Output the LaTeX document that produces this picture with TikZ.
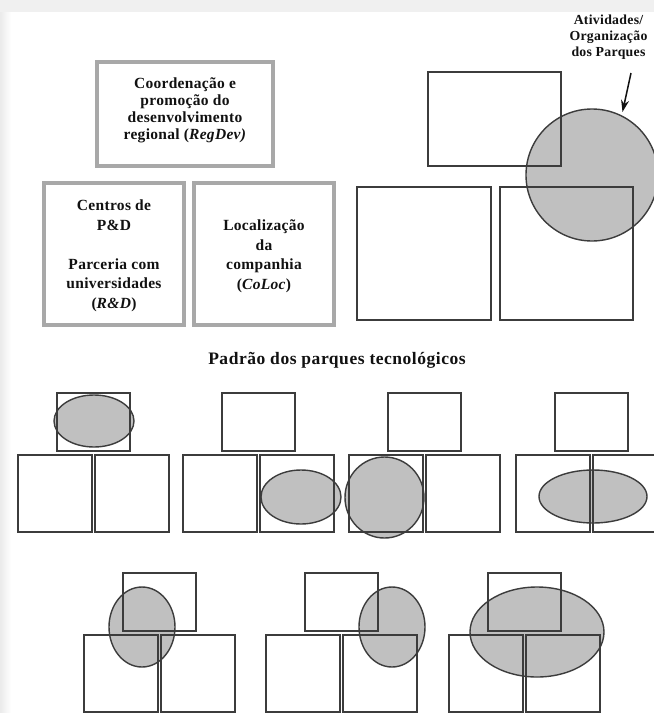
\documentclass[tikz,border=0pt]{standalone}
\usepackage{fontspec}
\usetikzlibrary{arrows.meta}
\newfontfamily\figfont{Liberation Serif}[LetterSpace=2]
\newfontfamily\titlefont{Liberation Serif}[LetterSpace=3]
\definecolor{linegray}{HTML}{3C3C3C}
\definecolor{blobgray}{HTML}{C0C0C0}
\definecolor{framegray}{HTML}{A8A8A8}
\definecolor{inkgray}{HTML}{111111}
\begin{document}
\begin{tikzpicture}[x=1pt,y=-1pt,
  sq/.style={draw=linegray, line width=1.6pt},
  blob/.style={fill=blobgray, draw=linegray, line width=1.4pt},
  grayframe/.style={draw=framegray, line width=4pt},
  boxtext/.style={font=\figfont\bfseries\fontsize{15.5}{19.5}\selectfont, align=center, text=inkgray, inner sep=0pt},
  park/.pic={
    \draw[sq] (0,0) rectangle (73,58);
    \draw[sq] (-39,62) rectangle (35,139);
    \draw[sq] (38,62) rectangle (112,139);
  }]
\useasboundingbox (0,0) rectangle (654,713);
\clip (0,0) rectangle (654,713);
% page background with the light window frame
\fill[white] (0,0) rectangle (654,713);
\fill[black!6] (0,0) rectangle (654,12);
\shade[left color=black!8, right color=white] (0,12) rectangle (11,713);

% three thematic boxes
\draw[grayframe] (97,62) rectangle (273,166);
\draw[grayframe] (44,183) rectangle (184,325);
\draw[grayframe] (194,183) rectangle (334,325);
\node[boxtext, font=\figfont\bfseries\fontsize{15.5}{17}\selectfont] (regdev) at (185,110)
  {Coordenação e\\promoção do\\desenvolvimento\\regional (\textit{RegDev)}};
\node[boxtext] (rd) at (114,256)
  {Centros de\\P\&D\\[19.5pt]Parceria com\\universidades\\(\textit{R\&D})};
\node[boxtext] (coloc) at (264,256)
  {Localização\\da\\companhia\\(\textit{CoLoc})};

% park organisation sketch
\node[circle, blob, minimum size=132pt, inner sep=0pt] (act) at (592,175) {};
\draw[sq] (428,72) rectangle (561,166);
\draw[sq] (357,187) rectangle (491,320);
\draw[sq] (500,187) rectangle (633,320);
\node[font=\figfont\bfseries\fontsize{13.8}{16}\selectfont, align=center, text=inkgray, inner sep=0pt] (lab) at (608.5,37)
  {Atividades/\\Organização\\dos Parques};
\coordinate (tail) at (631,73);
\coordinate (tip) at (622.5,112);
\draw[inkgray, line width=1.5pt, -{Stealth[length=12pt,width=8pt]}] (tail) -- (tip);

% title
\node[font=\titlefont\bfseries\fontsize{17.5}{20}\selectfont, text=inkgray] (title) at (337,360)
  {Padrão dos parques tecnológicos};

% patterns: ellipses first, squares on top
\path[blob] (94,421) ellipse [x radius=40, y radius=26];
\path[blob] (301,497) ellipse [x radius=40, y radius=27];
\path[blob] (384.5,497.5) ellipse [x radius=39.5, y radius=40.5];
\path[blob] (593,496.5) ellipse [x radius=54, y radius=26.5];
\path[blob] (142,627) ellipse [x radius=33, y radius=40];
\path[blob] (392,627) ellipse [x radius=33, y radius=40];
\path[blob] (537,632) ellipse [x radius=67, y radius=45];

\pic at (57,393) {park};
\pic at (222,393) {park};
\pic at (388,393) {park};
\pic at (555,393) {park};
\pic at (123,573) {park};
\pic at (305,573) {park};
\pic at (488,573) {park};
\end{tikzpicture}
\end{document}
